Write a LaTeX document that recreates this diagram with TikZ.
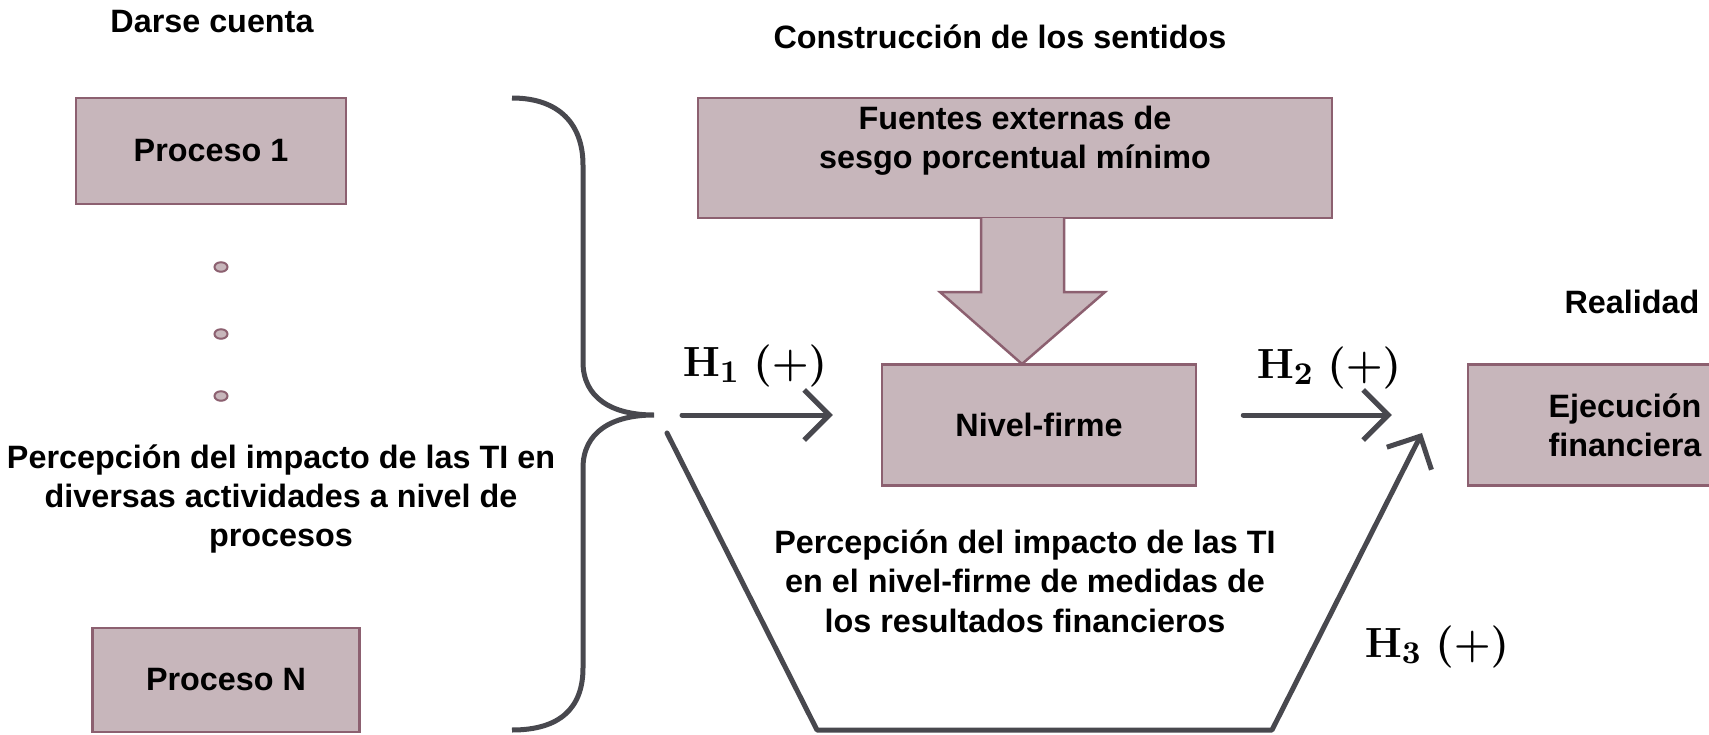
\documentclass[tikz,border=0pt]{standalone}
\usepackage[no-math]{fontspec}
\setmainfont{Liberation Sans}
\usetikzlibrary{arrows.meta,shapes.geometric}

\definecolor{cajafondo}{RGB}{199,182,187}
\definecolor{cajaborde}{RGB}{140,96,112}
\definecolor{trazo}{RGB}{72,72,78}

\tikzset{
  caja/.style={draw=cajaborde, fill=cajafondo, line width=0.25mm, inner sep=0pt,
    font=\bfseries\fontsize{9.2}{11.2}\selectfont, align=center},
  texto/.style={font=\bfseries\fontsize{9.2}{11.2}\selectfont, align=center},
  hipo/.style={font=\fontsize{13.2}{15}\selectfont\boldmath},
  flujo/.style={draw=trazo, line width=0.5mm, line cap=round,
    -{Straight Barb[length=2.5mm,width=5mm]}},
  punto/.style={ellipse, draw=cajaborde, fill=cajafondo, line width=0.2mm,
    minimum width=1.3mm, minimum height=0.95mm, inner sep=0pt}
}

\begin{document}
\begin{tikzpicture}[x=0.1mm, y=-0.1mm]
    \useasboundingbox (0,0) rectangle (1709,735);

    % titulos
    \node[texto] (darse) at (212,22) {Darse cuenta};
    \node[texto] (construc) at (1000,37) {Construcción de los sentidos};
    \node[texto] (realidad) at (1632,302) {Realidad};

    % procesos
    \node[caja, minimum width=27mm, minimum height=10.6mm] (proc1) at (211,151) {Proceso 1};
    \node[caja, minimum width=26.7mm, minimum height=10.4mm] (procN) at (226,680) {Proceso N};
    \node[punto] (dot1) at (221,267) {};
    \node[punto] (dot2) at (221,334) {};
    \node[punto] (dot3) at (221,396) {};
    \node[texto] (percproc) at (281,499)
      {Percepción del impacto de las TI en\\diversas actividades a nivel de\\procesos};

    % llave
    \coordinate (tip) at (654,415);
    \draw[trazo, line width=0.5mm]
      (512,98) .. controls (560,98) and (583,125) .. (583,165) -- (583,362)
      .. controls (583,398) and (612,415) .. (tip)
      .. controls (612,415) and (583,432) .. (583,468) -- (583,668)
      .. controls (583,708) and (560,730) .. (512,730);

    % fuentes externas
    \node[caja, minimum width=63.4mm, minimum height=12mm] (fuentes) at (1015,158) {};
    \node[texto] (fuentestxt) at (1015,141) {Fuentes externas de\\sesgo porcentual mínimo};
    \filldraw[draw=cajaborde, fill=cajafondo, line width=0.25mm]
      (981,218) -- (981,292) -- (940,292) -- (1022,364) -- (1105,292) -- (1064,292) -- (1064,218);

    % nivel firme y ejecucion
    \node[caja, minimum width=31.4mm, minimum height=12.1mm] (nivel) at (1039,425) {Nivel-firme};
    \node[caja, minimum width=31.4mm, minimum height=12.1mm] (ejec) at (1625,425) {Ejecución\\financiera};

    % hipotesis
    \draw[flujo, shorten <=2.8mm, shorten >=4.8mm] (tip) -- (tip -| nivel.west);
    \draw[flujo, shorten <=4.6mm, shorten >=7.5mm] (tip -| nivel.east) -- (tip -| ejec.west);
    \node[hipo] (h1) at (755,366) {$\mathrm{H}_1\ (+)$};
    \node[hipo] (h2) at (1329,368) {$\mathrm{H}_2\ (+)$};
    \node[hipo] (h3) at (1437,647) {$\mathrm{H}_3\ (+)$};

    \coordinate (t1) at (667,433);
    \coordinate (t2) at (817,730);
    \coordinate (t3) at (1272,730);
    \coordinate (t4) at (1422,433);
    \draw[flujo, line join=round] (t1) -- (t2) -- (t3) -- (t4);

    \node[texto] (percfirma) at (1025,581)
      {Percepción del impacto de las TI\\en el nivel-firme de medidas de\\los resultados financieros};
\end{tikzpicture}
\end{document}
